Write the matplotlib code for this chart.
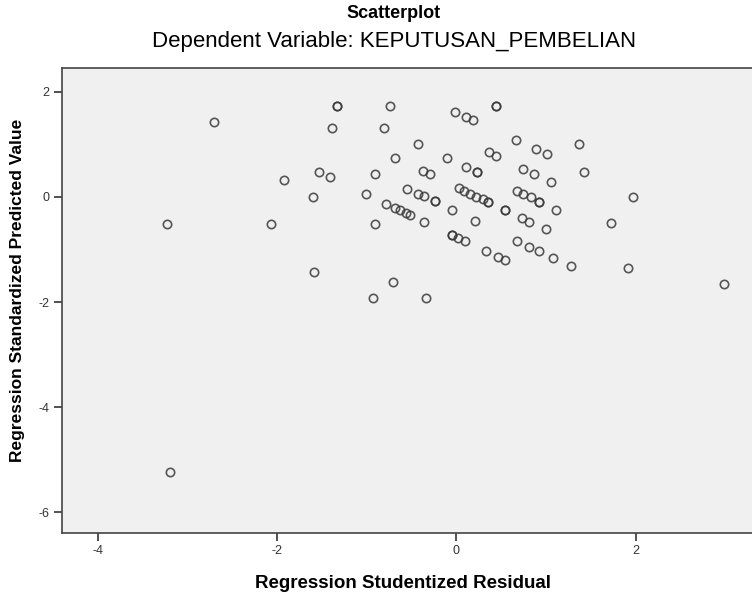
import matplotlib
matplotlib.use('Agg')
import matplotlib.pyplot as plt

# studentized residual (x) vs standardized predicted value (y)
resid = [-3.233, -3.194, -2.700, -2.065, -1.926, -1.603, -1.589, -1.530, -1.405, -1.391,
         -1.329, -1.329, -1.011, -0.931, -0.909, -0.905, -0.808, -0.739, -0.789, -0.711,
         -0.686, -0.686, -0.627, -0.560, -0.513, -0.555, -0.426, -0.426, -0.357, -0.370,
         -0.295, -0.365, -0.338, -0.240, -0.240, -0.109, -0.047, -0.014, 0.109, 0.181,
         0.106, 0.226, 0.226, 0.028, 0.086, 0.154, 0.225, 0.294, 0.351, 0.351,
         0.212, -0.050, -0.050, 0.017, 0.095, 0.331, 0.466, 0.546, 0.362, 0.438,
         0.440, 0.440, 0.541, 0.541, 0.663, 0.674, 0.749, 0.838, 0.928, 0.928,
         0.672, 0.812, 0.922, 0.730, 0.808, 0.749, 0.872, 0.892, 1.014, 1.061,
         0.996, 1.079, 1.117, 1.282, 1.369, 1.421, 1.730, 1.921, 1.971, 2.982]
pred = [-0.515, -5.224, 1.418, -0.515, 0.316, -0.008, -1.422, 0.473, 0.373, 1.304,
        1.734, 1.734, 0.059, -1.926, 0.439, -0.519, 1.314, 1.732, -0.141, -1.618,
        0.734, -0.202, -0.255, -0.302, -0.344, 0.150, 1.006, 0.051, 0.008, 0.492,
        0.426, -0.471, -1.926, -0.087, -0.087, 0.745, -0.253, 1.620, 1.525, 1.462,
        0.574, 0.481, 0.481, 0.160, 0.116, 0.055, 0.004, -0.036, -0.097, -0.097,
        -0.464, -0.724, -0.724, -0.778, -0.842, -1.034, -1.137, -1.205, 0.848, 0.783,
        1.732, 1.732, -0.253, -0.253, 1.087, 0.116, 0.051, 0.004, -0.103, -0.103,
        -0.838, -0.947, -1.034, -0.407, -0.473, 0.530, 0.426, 0.905, 0.810, 0.274,
        -0.616, -1.156, -0.253, -1.314, 0.996, 0.470, -0.502, -1.356, 0.002, -1.665]

x_ticks = [-4, -2, 0, 2]
y_ticks = [2, 0, -2, -4, -6]

plt.rcParams['font.family'] = ['Liberation Sans', 'DejaVu Sans']

fig = plt.figure(figsize=(7.52, 5.97), dpi=100)
ax = fig.add_axes([62 / 752, 1 - 533 / 597, 1 - 62 / 752, (533 - 68) / 597])
ax.set_facecolor('#f0f0f0')

ax.plot(resid, pred, linestyle='none', marker='o', markersize=6.0,
        markerfacecolor='none', markeredgecolor='#3a3a3a', markeredgewidth=1.2, alpha=0.85)

ax.set_xlim(-4.40, 3.30)
ax.set_ylim(-6.39, 2.45)
ax.set_xticks(x_ticks)
ax.set_yticks(y_ticks)
ax.set_xticklabels([str(v) for v in x_ticks])
ax.set_yticklabels([str(v) for v in y_ticks])
ax.tick_params(direction='out', length=6, width=1.2, color='#333333',
               labelsize=9, labelcolor='#333333', pad=3)

for side in ['left', 'top', 'bottom']:
    ax.spines[side].set_color('#444444')
    ax.spines[side].set_linewidth(1.2)
ax.spines['right'].set_visible(False)

fig.text(394 / 752, 1 - 14 / 597, 'Scatterplot', ha='center', va='center',
         fontsize=13, fontweight='bold')
fig.text(394 / 752, 1 - 41 / 597, 'Dependent Variable: KEPUTUSAN_PEMBELIAN',
         ha='center', va='center', fontsize=16)
fig.text(403 / 752, 1 - 583 / 597, 'Regression Studentized Residual',
         ha='center', va='center', fontsize=13.5, fontweight='bold')
fig.text(18 / 752, 1 - 290 / 597, 'Regression Standardized Predicted Value',
         ha='center', va='center', rotation=90, fontsize=12.5, fontweight='bold')

fig.savefig('out.png', dpi=100)
